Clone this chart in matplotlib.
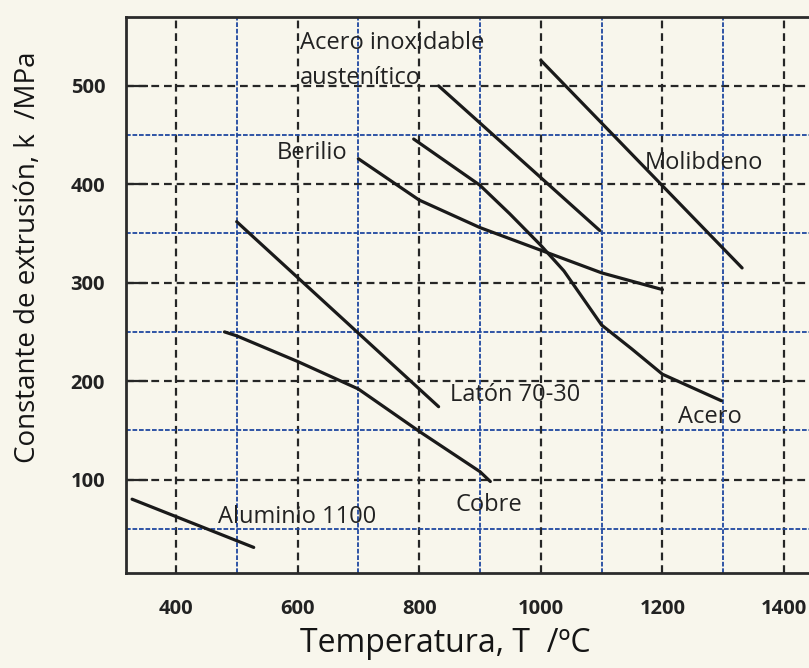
import matplotlib
matplotlib.use("Agg")
import matplotlib.pyplot as plt

# ---- data ----
inox_T = [832, 1097]
inox_k = [500, 353]

molib_T = [1000, 1331]
molib_k = [526, 315]

berilio_T = [700, 800, 900, 1000, 1100, 1200]
berilio_k = [426, 384, 356, 333, 310, 293]

acero_T = [791, 900, 949, 1000, 1038, 1100, 1149, 1200, 1297]
acero_k = [446, 399, 370, 338, 312, 257, 233, 207, 180]

laton_T = [500, 832]
laton_k = [362, 174]

cobre_T = [480, 500, 600, 700, 800, 900, 917]
cobre_k = [250, 246, 220, 192, 149, 108, 98]

alum_T = [328, 528]
alum_k = [80, 31]

x_ticks = [400, 600, 800, 1000, 1200, 1400]
y_ticks = [100, 200, 300, 400, 500]
x_blue = [500, 700, 900, 1100, 1300]
y_blue = [50, 150, 250, 350, 450]

labels = {
    "Acero inoxidable": (604, 544),
    "austenítico": (604, 508),
    "Berilio": (566, 432),
    "Molibdeno": (1171, 422),
    "Latón 70-30": (851, 186),
    "Acero": (1226, 164),
    "Cobre": (859, 74),
    "Aluminio 1100": (469, 62),
}

# ---- figure ----
bg = "#f8f6ec"
plt.rcParams["font.family"] = ["Open Sans", "DejaVu Sans"]
fig = plt.figure(figsize=(8.09, 6.68), dpi=100, facecolor=bg)
ax = fig.add_axes([126 / 809, 1 - 573 / 668, (809 - 126) / 809, (573 - 17) / 668])
ax.set_facecolor(bg)
ax.set_xlim(318, 1441)
ax.set_ylim(5, 570)

blk = "#262626"
blue = "#1f48a0"
for x in x_ticks:
    ax.axvline(x, color=blk, lw=1.6, dashes=(3.5, 2.2), zorder=1)
for y in y_ticks:
    ax.axhline(y, color=blk, lw=1.6, dashes=(3.5, 2.2), zorder=1)
for x in x_blue:
    ax.axvline(x, color=blue, lw=1.3, dashes=(2.6, 1.0), zorder=1)
for y in y_blue:
    ax.axhline(y, color=blue, lw=1.3, dashes=(2.6, 1.0), zorder=1)

lc = "#1a1a1a"
for T, k in [(inox_T, inox_k), (molib_T, molib_k), (berilio_T, berilio_k),
             (acero_T, acero_k), (laton_T, laton_k), (cobre_T, cobre_k),
             (alum_T, alum_k)]:
    ax.plot(T, k, color=lc, lw=2.3, solid_capstyle="round",
            solid_joinstyle="round", zorder=3)

for txt, (x, y) in labels.items():
    ax.text(x, y, txt, fontsize=17, color="#222222", ha="left", va="center", zorder=4)

ax.set_xticks(x_ticks)
ax.set_yticks(y_ticks)
ax.set_xticklabels([str(v) for v in x_ticks], fontweight="bold", fontsize=14.5, color="#222")
ax.set_yticklabels([str(v) for v in y_ticks], fontweight="bold", fontsize=14.5, color="#222")
ax.tick_params(axis="x", length=0, pad=19)
ax.tick_params(axis="y", direction="in", length=16, width=1.6, color=blk, pad=15)

for s in ["left", "bottom", "top"]:
    ax.spines[s].set_linewidth(2.0)
    ax.spines[s].set_color("#2b2b2b")
ax.spines["right"].set_visible(False)

fig.text(445 / 809, 1 - 643 / 668, "Temperatura, T  /ºC", fontsize=23,
         ha="center", va="center", color="#151515")
fig.text(28 / 809, 1 - 257 / 668, "Constante de extrusión, k  /MPa", fontsize=20,
         ha="center", va="center", rotation=90, color="#151515")

fig.savefig("out.png", dpi=100, facecolor=bg)
